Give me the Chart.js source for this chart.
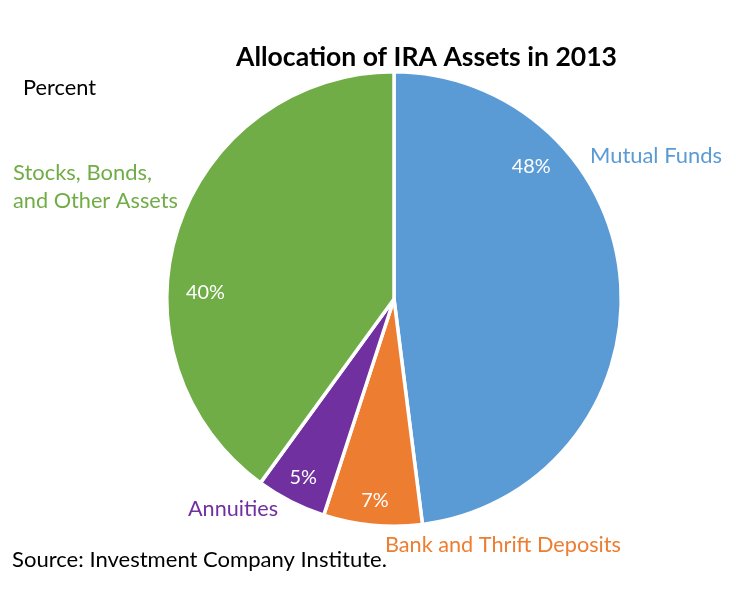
<!DOCTYPE html>
<html>
<head>
<meta charset="utf-8">
<script src="https://cdn.jsdelivr.net/npm/chart.js@4.4.1/dist/chart.umd.min.js"></script>
<style>
  html, body { margin: 0; padding: 0; background: #ffffff; }
  #wrap { position: relative; width: 736px; height: 598px; }
</style>
</head>
<body>
<div id="wrap"><canvas id="pie" width="736" height="598"></canvas></div>
<script>
// Data
const categories = ["Mutual Funds", "Bank and Thrift Deposits", "Annuities", "Stocks, Bonds, and Other Assets"];
const shares = [48, 7, 5, 40];
const sliceColors = ["#5B9BD5", "#ED7D31", "#7030A0", "#70AD47"];

const FONT = "Lato, 'Open Sans', sans-serif";

// Helper: pick a font size so the text spans a given width
function fitFont(ctx, text, weight, width) {
  ctx.font = `${weight} 20px ${FONT}`;
  const w = ctx.measureText(text).width;
  const size = 20 * width / w;
  ctx.font = `${weight} ${size.toFixed(2)}px ${FONT}`;
}

function drawText(ctx, text, x, y, color, weight, width) {
  fitFont(ctx, text, weight, width);
  ctx.fillStyle = color;
  ctx.textAlign = "left";
  ctx.textBaseline = "alphabetic";
  ctx.fillText(text, x, y);
}

// Outside text: title, unit note, category labels, source
const textPlugin = {
  id: "pageText",
  afterDraw(chart) {
    const ctx = chart.ctx;
    ctx.save();
    drawText(ctx, "Allocation of IRA Assets in 2013", 236, 66, "#000000", "bold", 381);
    drawText(ctx, "Percent", 23, 95, "#000000", "normal", 73);
    drawText(ctx, "Mutual Funds", 590, 163, sliceColors[0], "normal", 132);
    drawText(ctx, "Bank and Thrift Deposits", 385, 552, sliceColors[1], "normal", 236);
    drawText(ctx, "Annuities", 188, 516, sliceColors[2], "normal", 90);
    drawText(ctx, "Stocks, Bonds,", 13, 180, sliceColors[3], "normal", 139);
    drawText(ctx, "and Other Assets", 13, 208, sliceColors[3], "normal", 165);
    drawText(ctx, "Source: Investment Company Institute.", 12, 567, "#000000", "normal", 375);
    ctx.restore();
  }
};

// Percentage labels inside the slices
const valuePlugin = {
  id: "valueLabels",
  afterDatasetsDraw(chart, args, opts) {
    const ctx = chart.ctx;
    const arcs = chart.getDatasetMeta(0).data;
    ctx.save();
    ctx.fillStyle = "#ffffff";
    ctx.textAlign = "center";
    ctx.textBaseline = "middle";
    fitFont(ctx, "48%", "normal", 39);
    arcs.forEach((arc, i) => {
      const place = opts.placement[i] || {};
      let ang = (arc.startAngle + arc.endAngle) / 2;
      if (place.angle !== undefined) ang = (place.angle - 90) * Math.PI / 180;
      const r = arc.outerRadius * (place.dist ?? 0.85);
      const x = arc.x + Math.cos(ang) * r;
      const y = arc.y + Math.sin(ang) * r;
      ctx.fillText(shares[i] + "%", x, y);
    });
    ctx.restore();
  }
};

new Chart(document.getElementById("pie"), {
  type: "pie",
  data: {
    labels: categories,
    datasets: [{
      data: shares,
      backgroundColor: sliceColors,
      borderColor: "#ffffff",
      borderWidth: 3.5
    }]
  },
  options: {
    responsive: false,
    animation: false,
    layout: { padding: { left: 165, right: 113, top: 70, bottom: 70 } },
    plugins: {
      legend: { display: false },
      tooltip: { enabled: false },
      valueLabels: {
        placement: [
          { angle: 46, dist: 0.84 },
          { dist: 0.89 },
          { dist: 0.88 },
          { angle: 272, dist: 0.83 }
        ]
      }
    }
  },
  plugins: [valuePlugin, textPlugin]
});
</script>
</body>
</html>
